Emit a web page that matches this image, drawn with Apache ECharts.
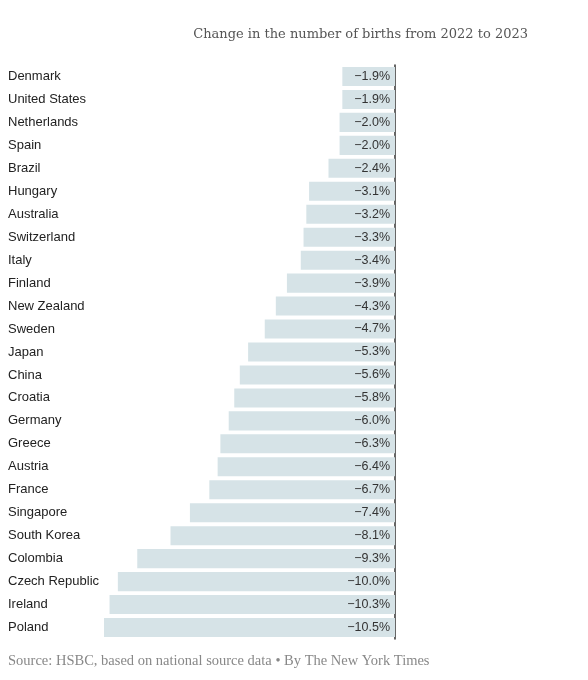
<!DOCTYPE html>
<html><head><meta charset="utf-8">
<script src="https://cdn.jsdelivr.net/npm/echarts@6/dist/echarts.min.js"></script>
<style>html,body{margin:0;padding:0;background:#fff}#c{width:588px;height:680px}</style>
</head><body><div id="c"></div>
<script>
const countries = ["Denmark","United States","Netherlands","Spain","Brazil","Hungary","Australia","Switzerland","Italy","Finland","New Zealand","Sweden","Japan","China","Croatia","Germany","Greece","Austria","France","Singapore","South Korea","Colombia","Czech Republic","Ireland","Poland"];
const changes = [-1.9,-1.9,-2.0,-2.0,-2.4,-3.1,-3.2,-3.3,-3.4,-3.9,-4.3,-4.7,-5.3,-5.6,-5.8,-6.0,-6.3,-6.4,-6.7,-7.4,-8.1,-9.3,-10.0,-10.3,-10.5];
const chart = echarts.init(document.getElementById('c'));
chart.setOption({
  animation:false,
  title:{text:'Change in the number of births from 2022 to 2023',right:55,top:23,
    textStyle:{fontFamily:'DejaVu Serif',fontWeight:'normal',fontSize:13,color:'#555'}},
  graphic:[{type:'text',left:8,top:654,style:{text:'Source: HSBC, based on national source data \u2022 By The New York Times',
    font:'14.5px "Liberation Serif"',fill:'#888'}}],
  grid:{left:104,right:193,top:65,bottom:41},
  xAxis:{type:'value',min:-10.5,max:0,show:false},
  yAxis:[{type:'category',data:countries,inverse:true,position:'left',
    axisLine:{show:false},axisTick:{show:false},
    axisLabel:{align:'left',margin:96,fontFamily:'Liberation Sans',fontSize:13,color:'#222'}},
   {type:'category',data:countries,inverse:true,position:'right',
    axisLine:{show:true,onZero:false,lineStyle:{color:'#333',width:1.5}},axisTick:{show:false},axisLabel:{show:false}}],
  series:[{type:'bar',data:changes,barCategoryGap:'17%',itemStyle:{color:'#d6e3e7'},
    label:{show:true,position:'insideRight',distance:5,fontFamily:'Liberation Sans',fontSize:12.5,color:'#333',
      formatter:p=>'\u2212'+Math.abs(p.value).toFixed(1)+'%'}}]
});
</script></body></html>
